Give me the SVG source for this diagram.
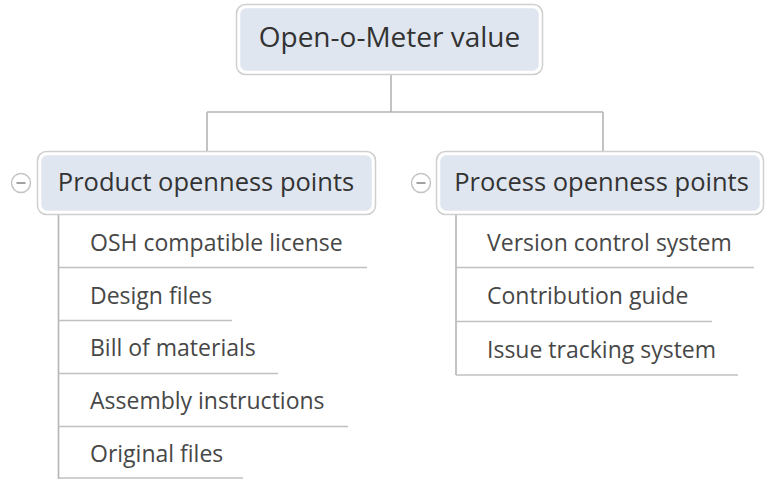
<svg xmlns="http://www.w3.org/2000/svg" width="765" height="479" viewBox="0 0 765 479">
<style>
.bg{fill:#ffffff}
.outer{fill:#ffffff;stroke:#cfcfcf;stroke-width:1.5}
.inner{fill:#dfe6f0;stroke:#e8ecf2;stroke-width:1}
.conn{fill:none;stroke:#b4b4b4;stroke-width:1.6}
.under{fill:none;stroke:#c0c0c0;stroke-width:1.6}
.root{font-family:"Open Sans","Liberation Sans",sans-serif;font-size:28px;fill:#333333;text-anchor:middle}
.branch{font-family:"Open Sans","Liberation Sans",sans-serif;font-size:25.5px;fill:#333333;text-anchor:middle}
.leaf{font-family:"Open Sans","Liberation Sans",sans-serif;font-size:23px;fill:#474747}
.tog{fill:#ffffff;stroke:#c4c4c4;stroke-width:1.5}
.minus{stroke:#8a8a8a;stroke-width:1.6}
</style>
<rect class="bg" x="0" y="0" width="765" height="479"/>
<g id="connectors">
<path class="conn" d="M391 75 V112 M207 112 H603 M207 112 V151 M603 112 V151"/>
<path class="conn" d="M58.5 215 V479"/>
<path class="conn" d="M456 214 V375"/>
</g>
<g id="root">
<rect class="outer" x="236.5" y="4.5" width="306" height="70" rx="9"/>
<rect class="inner" x="240.5" y="8.5" width="298" height="62" rx="6"/>
<text class="root" x="389.5" y="47">Open-o-Meter value</text>
</g>
<g id="product">
<rect class="outer" x="37.5" y="151.5" width="338" height="63" rx="9"/>
<rect class="inner" x="41.5" y="155.5" width="330" height="55" rx="6"/>
<text class="branch" x="206" y="191">Product openness points</text>
<circle class="tog" cx="21" cy="183" r="9.5"/>
<line class="minus" x1="16.5" y1="183" x2="25.5" y2="183"/>
</g>
<g id="process">
<rect class="outer" x="436.5" y="151.5" width="327" height="63" rx="9"/>
<rect class="inner" x="440.5" y="155.5" width="319" height="55" rx="6"/>
<text class="branch" x="601.5" y="191">Process openness points</text>
<circle class="tog" cx="421" cy="183" r="9.5"/>
<line class="minus" x1="416.5" y1="183" x2="425.5" y2="183"/>
</g>
<g id="osh">
<text class="leaf" x="90" y="250.5">OSH compatible license</text>
<line class="under" x1="58.5" y1="267.5" x2="367" y2="267.5"/>
</g>
<g id="design">
<text class="leaf" x="90" y="303.5">Design files</text>
<line class="under" x1="58.5" y1="320.5" x2="232" y2="320.5"/>
</g>
<g id="bom">
<text class="leaf" x="90" y="356">Bill of materials</text>
<line class="under" x1="58.5" y1="373.5" x2="278" y2="373.5"/>
</g>
<g id="assembly">
<text class="leaf" x="90" y="409">Assembly instructions</text>
<line class="under" x1="58.5" y1="426.5" x2="348" y2="426.5"/>
</g>
<g id="original">
<text class="leaf" x="90" y="461.5">Original files</text>
<line class="under" x1="58.5" y1="478" x2="243" y2="478"/>
</g>
<g id="vcs">
<text class="leaf" x="487" y="250.5">Version control system</text>
<line class="under" x1="456" y1="267.5" x2="754" y2="267.5"/>
</g>
<g id="contrib">
<text class="leaf" x="487" y="304">Contribution guide</text>
<line class="under" x1="456" y1="321.5" x2="712" y2="321.5"/>
</g>
<g id="issues">
<text class="leaf" x="487" y="357.5">Issue tracking system</text>
<line class="under" x1="456" y1="375" x2="738" y2="375"/>
</g>
</svg>
